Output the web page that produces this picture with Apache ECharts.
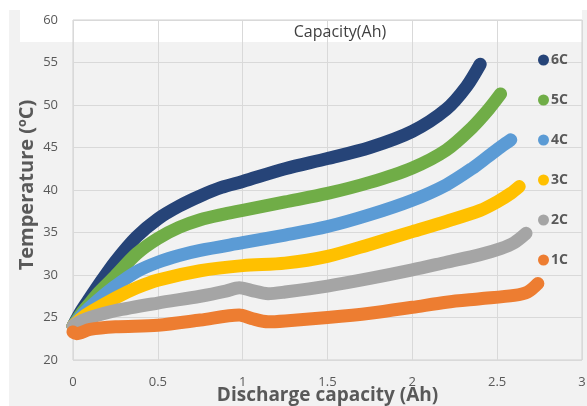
<!DOCTYPE html>
<html>
<head>
<meta charset="utf-8">
<script src="https://cdn.jsdelivr.net/npm/echarts@6/dist/echarts.min.js"></script>
<style>html,body{margin:0;padding:0;background:#fff}#c{width:587px;height:406px}</style>
</head>
<body>
<div id="c"></div>
<script>
// Series names (legend order)
const seriesNames = ['6C', '5C', '4C', '3C', '2C', '1C'];
const seriesColors = ['#264478', '#70ad47', '#5b9bd5', '#ffc000', '#a5a5a5', '#ed7d31'];

// Discharge capacity (Ah) and temperature (°C) per series
const x6C = [0, 0.05, 0.1, 0.15, 0.25, 0.375, 0.5, 0.625, 0.75, 0.875, 1.0, 1.25, 1.5, 1.75, 2.0, 2.2, 2.32, 2.4];
const t6C = [24, 25.8, 27.3, 28.8, 31.6, 34.5, 36.6, 38.1, 39.3, 40.3, 41.0, 42.5, 43.7, 45.0, 46.9, 49.5, 52.2, 54.8];

const x5C = [0, 0.05, 0.1, 0.15, 0.25, 0.375, 0.5, 0.625, 0.75, 0.875, 1.0, 1.25, 1.5, 1.75, 2.0, 2.2, 2.35, 2.45, 2.52];
const t5C = [24, 25.5, 26.7, 27.9, 29.9, 32.5, 34.3, 35.6, 36.5, 37.1, 37.6, 38.6, 39.6, 40.9, 42.6, 44.7, 47.3, 49.5, 51.3];

const x4C = [0, 0.05, 0.1, 0.15, 0.25, 0.375, 0.5, 0.625, 0.75, 1.0, 1.25, 1.5, 1.75, 2.0, 2.2, 2.35, 2.45, 2.53, 2.58];
const t4C = [24, 25.2, 26.2, 27.1, 28.7, 30.4, 31.5, 32.3, 32.9, 33.8, 34.7, 35.7, 37.1, 38.8, 40.6, 42.5, 44.0, 45.2, 45.9];

const x3C = [0, 0.05, 0.1, 0.25, 0.375, 0.5, 0.75, 1.0, 1.25, 1.5, 1.75, 2.0, 2.2, 2.4, 2.5, 2.58, 2.63];
const t3C = [24, 24.9, 25.6, 27.3, 28.5, 29.4, 30.5, 31.1, 31.4, 32.2, 33.6, 35.1, 36.3, 37.6, 38.6, 39.6, 40.4];

const x2C = [0, 0.05, 0.1, 0.25, 0.5, 0.75, 0.9, 0.98, 1.05, 1.15, 1.25, 1.5, 1.75, 2.0, 2.2, 2.4, 2.52, 2.6, 2.67];
const t2C = [24, 24.6, 25.0, 25.8, 26.7, 27.5, 28.1, 28.5, 28.2, 27.8, 28.0, 28.7, 29.6, 30.6, 31.5, 32.4, 33.1, 33.8, 34.9];

const x1C = [0, 0.02, 0.1, 0.25, 0.5, 0.75, 0.98, 1.05, 1.15, 1.25, 1.5, 1.75, 2.0, 2.2, 2.4, 2.6, 2.68, 2.74];
const t1C = [23.3, 23.1, 23.6, 23.9, 24.1, 24.7, 25.3, 24.9, 24.5, 24.6, 25.0, 25.5, 26.2, 26.8, 27.2, 27.6, 28.0, 29.0];

// Axis ticks
const xTicks = [0, 0.5, 1, 1.5, 2, 2.5, 3];
const yTicks = [20, 25, 30, 35, 40, 45, 50, 55, 60];

const xs = [x6C, x5C, x4C, x3C, x2C, x1C];
const ts = [t6C, t5C, t4C, t3C, t2C, t1C];

const font = '"Open Sans", "Liberation Sans", sans-serif';
const chart = echarts.init(document.getElementById('c'), null, {renderer: 'canvas'});

const series = seriesNames.map((name, i) => ({
  name,
  type: 'line',
  data: xs[i].map((x, j) => [x, ts[i][j]]),
  smooth: 0.3,
  showSymbol: false,
  symbol: 'circle',
  color: seriesColors[i],
  lineStyle: {width: 13, color: seriesColors[i], cap: 'round', join: 'round'},
  emphasis: {disabled: true},
  animation: false,
  z: 3
}));

chart.setOption({
  animation: false,
  backgroundColor: '#ffffff',
  graphic: [
    {type: 'rect', shape: {x: 9, y: 10, width: 578, height: 396}, style: {fill: '#f2f2f2'}, z: -10, silent: true},
    {type: 'rect', shape: {x: 20, y: 10, width: 562, height: 32}, style: {fill: '#ffffff'}, z: -9, silent: true}
  ],
  title: {
    text: 'Capacity(Ah)',
    left: 335, top: 19, textAlign: 'center',
    textStyle: {fontFamily: font, fontSize: 16, fontWeight: 'normal', color: '#404040'}
  },
  legend: {
    orient: 'vertical',
    left: 533, top: 48,
    itemWidth: 11, itemHeight: 11, itemGap: 26,
    icon: 'circle',
    data: seriesNames,
    textStyle: {fontFamily: font, fontSize: 14, fontWeight: 'bold', color: '#595959', padding: [0, 0, 0, -3]}
  },
  grid: {left: 73, top: 20, right: 5, bottom: 46, containLabel: false, outerBoundsMode: 'none',
    show: true, borderColor: '#d0d0d0', borderWidth: 1, backgroundColor: 'transparent'},
  xAxis: {
    type: 'value', min: xTicks[0], max: xTicks[xTicks.length - 1], interval: 0.5,
    name: 'Discharge capacity (Ah)', nameLocation: 'middle', nameGap: 26, nameMoveOverlap: false,
    nameTextStyle: {fontFamily: font, fontSize: 19, fontWeight: 'bold', color: '#595959'},
    axisLine: {show: false}, axisTick: {show: false},
    splitLine: {show: true, lineStyle: {color: '#d9d9d9', width: 1}},
    axisLabel: {fontFamily: font, fontSize: 13, color: '#595959', margin: 16,
      formatter: v => String(v)}
  },
  yAxis: {
    type: 'value', min: yTicks[0], max: yTicks[yTicks.length - 1], interval: 5,
    name: 'Temperature (ºC)', nameLocation: 'middle', nameGap: 36, nameMoveOverlap: false,
    nameTextStyle: {fontFamily: font, fontSize: 20, fontWeight: 'bold', color: '#595959', padding: [0, 0, 0, 10]},
    axisLine: {show: false}, axisTick: {show: false},
    splitLine: {show: true, lineStyle: {color: '#d9d9d9', width: 1}},
    axisLabel: {fontFamily: font, fontSize: 13, color: '#595959', margin: 15}
  },
  series
});
</script>
</body>
</html>
